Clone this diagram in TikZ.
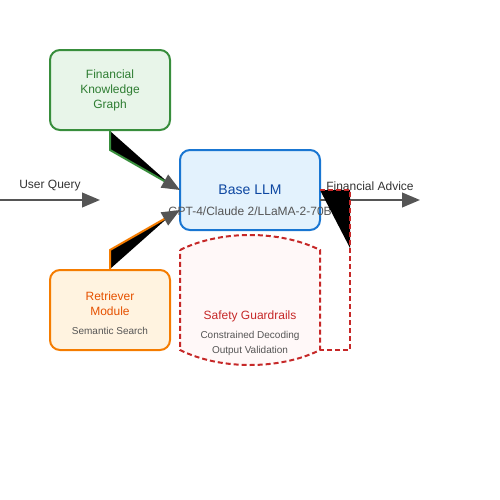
\documentclass[tikz,border=0pt]{standalone}
\usepackage{fontspec}
\setmainfont{Liberation Sans}
\usetikzlibrary{arrows.meta}
\definecolor{kgline}{RGB}{56,142,60}
\definecolor{kgfill}{RGB}{232,245,233}
\definecolor{kgtext}{RGB}{46,125,50}
\definecolor{llmline}{RGB}{25,118,210}
\definecolor{llmfill}{RGB}{227,242,253}
\definecolor{llmtext}{RGB}{13,71,161}
\definecolor{retline}{RGB}{245,124,0}
\definecolor{retfill}{RGB}{255,243,224}
\definecolor{rettext}{RGB}{230,81,0}
\definecolor{guardline}{RGB}{198,40,40}
\definecolor{guardfill}{RGB}{255,248,248}
\definecolor{subgray}{RGB}{85,85,85}
\definecolor{arrowgray}{RGB}{85,85,85}
\definecolor{labelgray}{RGB}{51,51,51}
\tikzset{
  box/.style={draw, rounded corners=7.5pt, line width=1.5pt, minimum width=90pt, minimum height=60pt, inner sep=0pt},
  bigtip/.style={-{Triangle[length=13.5pt,width=11pt,color=arrowgray]}},
  ttl/.style={inner sep=0.75pt, font=\fontsize{9}{11.25}\selectfont, align=center},
  sub/.style={inner sep=0.75pt, font=\fontsize{7.5}{11.25}\selectfont, align=center, text=subgray}
}
\begin{document}
\begin{tikzpicture}[x=0.75pt,y=0.75pt,yscale=-1,xscale=1]
\useasboundingbox (0,0) rectangle (500,500);

% Boxes
\node [box, draw=kgline, fill=kgfill, minimum height=60pt] (kg) at (110,90) {};
\node [box, draw=llmline, fill=llmfill, minimum width=105pt] (llm) at (250,190) {};
\node [box, draw=retline, fill=retfill] (ret) at (110,310) {};
%Shape: Guardrails
\draw [guardline, fill=guardfill, line width=1.5pt, dash pattern=on 3.75pt off 2.25pt] (180,250) .. controls (220,230) and (280,230) .. (320,250) -- (320,350) .. controls (280,370) and (220,370) .. (180,350) -- cycle;

% Text Node
\node [ttl, text=kgtext] (kgtitle) at (kg.center) {Financial\\Knowledge\\Graph};
% Text Node
\node [ttl, text=llmtext, font=\fontsize{10.5}{12}\selectfont] (llmtitle) at (250,190) {Base LLM};
% Text Node
\node [ttl, text=subgray] (llmsub) at (250,211) {GPT-4/Claude 2/LLaMA-2-70B};
% Text Node
\node [ttl, text=rettext] (rettitle) at (110,303.5) {Retriever\\Module};
% Text Node
\node [sub] (retsub) at (110,331) {Semantic Search};
% Text Node
\node [ttl, text=guardline] (guardtitle) at (250,316) {Safety Guardrails};
% Text Node
\node [sub] (guardsub) at (250,343.5) {Constrained Decoding\\Output Validation};
% Text Node
\node [ttl, text=labelgray] (querylabel) at (50,186) {User Query};
% Text Node
\node [ttl, text=labelgray] (advicelabel) at (370,186) {Financial Advice};

% Coordinates
\coordinate (qin) at (0,200);
\coordinate (qend) at (100,200);
\coordinate (aout) at (420,200);
\coordinate (kgbend) at (110,150);
\coordinate (retbend) at (110,250);
\coordinate (llmin1) at (180,190);
\coordinate (llmin2) at (180,210);
\coordinate (llmout) at (320,200);
\coordinate (llmtop) at (320,190);
\coordinate (loopa) at (350,190);
\coordinate (loopb) at (350,350);
\coordinate (guardout) at (320,350);

%Straight Lines
\draw [arrowgray, line width=1.5pt, bigtip] (qin) -- (qend);
\draw [arrowgray, line width=1.5pt, bigtip] (llmout) -- (aout);
%Filled edges
\fill [black] (kg.south) -- (kgbend) -- (172,186) -- cycle;
\draw [kgline, line width=1.5pt, bigtip] (kg.south) -- (kgbend) -- (llmin1);
\fill [black] (ret.north) -- (retbend) -- (172,214) -- cycle;
\draw [retline, line width=1.5pt, bigtip] (ret.north) -- (retbend) -- (llmin2);
\fill [black] (llmtop) -- (loopa) -- (350,248) -- cycle;
\draw [guardline, line width=1.5pt, dash pattern=on 3.75pt off 2.25pt] (llmtop) -- (loopa) -- (loopb) -- (guardout);

\end{tikzpicture}
\end{document}
